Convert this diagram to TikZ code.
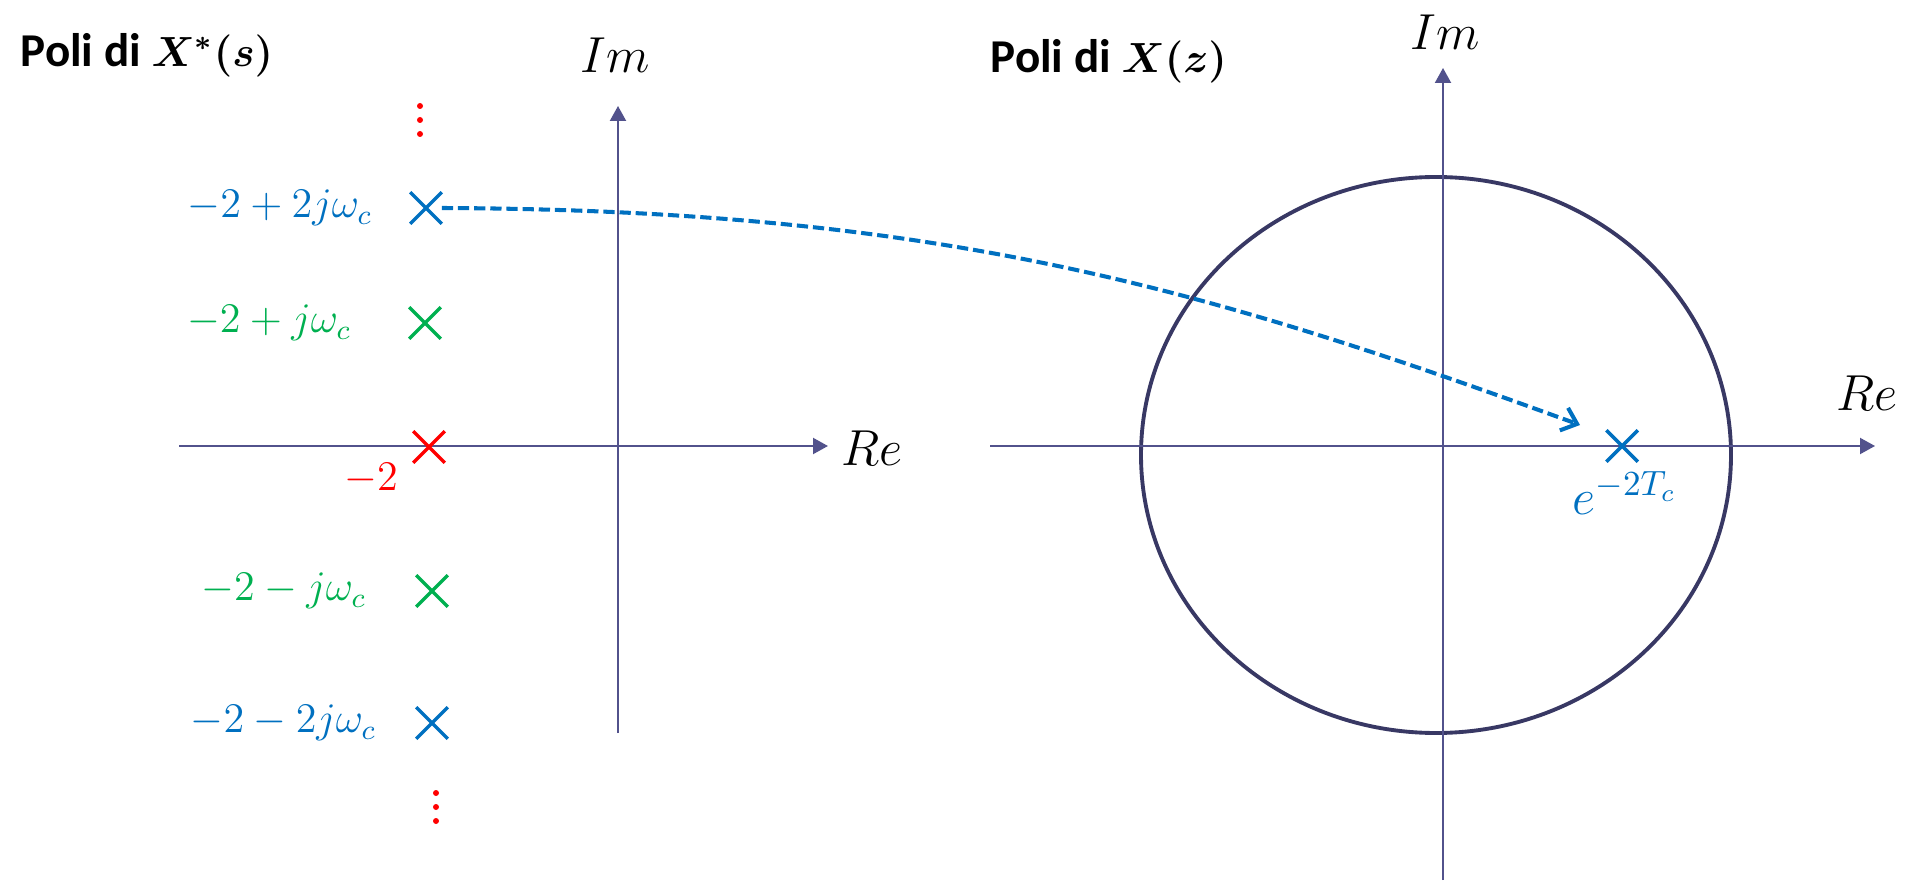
\documentclass[tikz,border=0pt]{standalone}
\usepackage{fontspec}
\usepackage{amsmath}
\usepackage{tikz}
\usetikzlibrary{shapes.misc, arrows.meta}
\newfontfamily\ttlfont{Carlito}
\newcommand{\ttlmath}[1]{{\fontsize{11.8}{14}\selectfont$#1$}}
\definecolor{myaxis}{RGB}{82,82,140}
\definecolor{mydark}{RGB}{56,56,100}
\definecolor{myblue}{RGB}{0,112,192}
\definecolor{mygreen}{RGB}{0,176,80}
\definecolor{myred}{RGB}{255,0,0}
\tikzset{
  axline/.style={draw=myaxis, line width=0.6pt,
    -{Triangle[length=0.15cm, width=0.16cm]}},
  pole/.style={cross out, draw, inner sep=0pt, minimum size=0.28cm,
    line width=1pt},
  polelbl/.style={inner sep=0pt, anchor=east, font=\fontsize{12}{14}\selectfont},
  axlbl/.style={inner sep=0pt, font=\fontsize{14}{16}\selectfont},
  plottitle/.style={inner sep=0pt, anchor=west,
    font=\ttlfont\bfseries\boldmath\fontsize{13.4}{16}\selectfont},
  maparrow/.style={draw=myblue, line width=1.15pt,
    dash pattern=on 3.2pt off 1.4pt,
    -{Straight Barb[length=0.14cm, width=0.24cm]}}
}

\begin{document}
\begin{tikzpicture}
  \useasboundingbox (0,0) rectangle (19.05,8.80);

  % s plane
  \draw[axline] (1.79,4.34) -- (8.28,4.34);
  \draw[axline] (6.18,1.47) -- (6.18,7.74);
  \node[axlbl] (reS) at (8.72,4.32) {$Re$};
  \node[axlbl] (imS) at (6.15,8.25) {$Im$};
  \node[plottitle] (titS) at (0.20,8.25) {Poli di \ttlmath{X^*(s)}};

  \node[pole, draw=myblue] (pB2) at (4.26,6.72) {};
  \node[pole, draw=mygreen] (pG1) at (4.25,5.57) {};
  \node[pole, draw=myred] (pR) at (4.29,4.33) {};
  \node[pole, draw=mygreen] (pGm1) at (4.32,2.89) {};
  \node[pole, draw=myblue] (pBm2) at (4.32,1.57) {};

  \node[polelbl, text=myblue] (lB2) at (3.73,6.72) {$-2+2j\omega_c$};
  \node[polelbl, text=mygreen] (lG1) at (3.52,5.57) {$-2+j\omega_c$};
  \node[inner sep=0pt, text=myred, font=\fontsize{13}{15}\selectfont] (lR) at (3.71,4.01) {$-2$};
  \node[polelbl, text=mygreen] (lGm1) at (3.67,2.89) {$-2-j\omega_c$};
  \node[polelbl, text=myblue] (lBm2) at (3.77,1.57) {$-2-2j\omega_c$};

  \foreach \y in {7.74,7.60,7.46} \fill[myred] (4.20,\y) circle (0.03);
  \foreach \y in {0.87,0.73,0.59} \fill[myred] (4.36,\y) circle (0.03);

  % z plane
  \draw[mydark, line width=1.1pt] (14.36,4.25) ellipse [x radius=2.95, y radius=2.78];
  \draw[axline] (9.90,4.34) -- (18.75,4.34);
  \draw[axline] (14.43,0) -- (14.43,8.12);
  \node[axlbl] (reZ) at (18.67,4.87) {$Re$};
  \node[axlbl] (imZ) at (14.45,8.48) {$Im$};
  \node[plottitle] (titZ) at (9.90,8.19) {Poli di \ttlmath{X(z)}};

  \node[pole, draw=myblue] (pZ) at (16.22,4.34) {};
  \node[axlbl, text=myblue] (lZ) at (16.25,3.87) {$e^{-2T_c}$};

  \coordinate (mapend) at (15.80,4.55);
  \draw[maparrow] (pB2.east) .. controls (9.40,6.70) and (12.04,5.92) .. (mapend);
\end{tikzpicture}
\end{document}
